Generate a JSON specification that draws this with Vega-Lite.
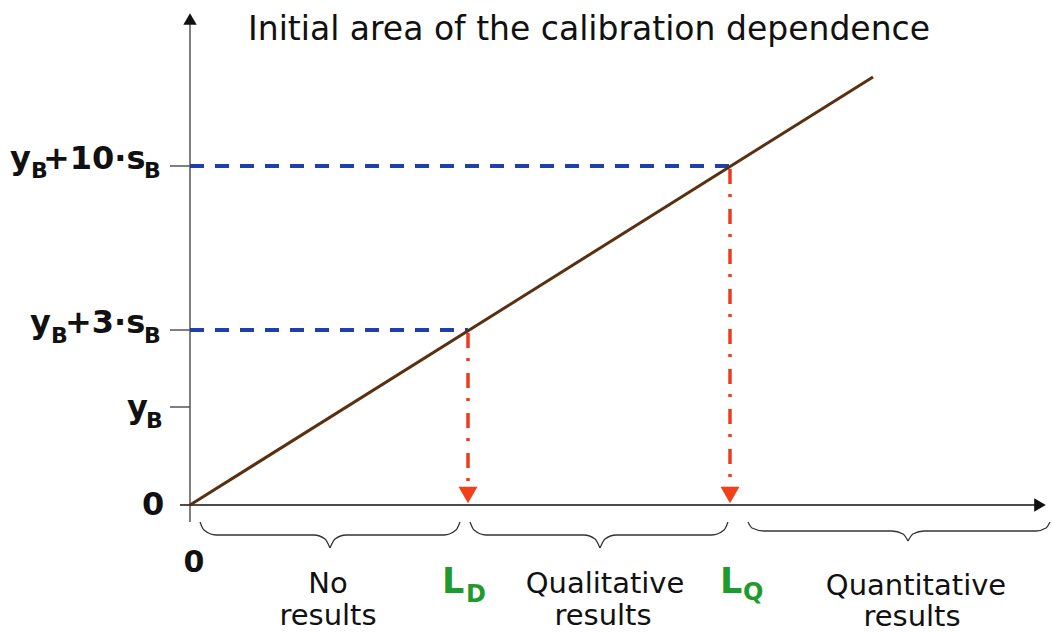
{
  "$schema": "https://vega.github.io/schema/vega-lite/v6.json",
  "width": 1052,
  "height": 633,
  "autosize": {"type": "none"},
  "padding": 0,
  "background": "white",
  "config": {"view": {"stroke": null}},
  "layer": [
    {
      "data": {"values": [{"x": 0, "y": -17, "y2": 487}]},
      "mark": {"type": "rule", "color": "#555555", "strokeWidth": 1.5},
      "encoding": {
        "x": {"field": "x", "type": "quantitative", "scale": {"domain": [-190, 862], "nice": false, "zero": false}, "axis": null},
        "y": {"field": "y", "type": "quantitative", "scale": {"domain": [-128, 505], "nice": false, "zero": false}, "axis": null},
        "y2": {"field": "y2"}
      }
    },
    {
      "data": {"values": [{"x": -10, "x2": 846, "y": 0}]},
      "mark": {"type": "rule", "color": "#111111", "strokeWidth": 1.5},
      "encoding": {
        "x": {"field": "x", "type": "quantitative", "scale": {"domain": [-190, 862], "nice": false, "zero": false}, "axis": null},
        "x2": {"field": "x2"},
        "y": {"field": "y", "type": "quantitative", "scale": {"domain": [-128, 505], "nice": false, "zero": false}, "axis": null}
      }
    },
    {
      "data": {"values": [{"x": 0, "y": 486, "dir": "up"}, {"x": 850, "y": 0, "dir": "right"}]},
      "mark": {"type": "point", "filled": true, "size": 180, "color": "#111111", "opacity": 1},
      "encoding": {
        "x": {"field": "x", "type": "quantitative", "scale": {"domain": [-190, 862], "nice": false, "zero": false}, "axis": null},
        "y": {"field": "y", "type": "quantitative", "scale": {"domain": [-128, 505], "nice": false, "zero": false}, "axis": null},
        "shape": {"field": "dir", "type": "nominal", "scale": {"domain": ["up", "right"], "range": ["triangle-up", "triangle-right"]}, "legend": null}
      }
    },
    {
      "data": {"values": [{"x": -20, "x2": 0, "y": 98}, {"x": -20, "x2": 0, "y": 175}, {"x": -20, "x2": 0, "y": 339}]},
      "mark": {"type": "rule", "color": "#555555", "strokeWidth": 1.5},
      "encoding": {
        "x": {"field": "x", "type": "quantitative", "scale": {"domain": [-190, 862], "nice": false, "zero": false}, "axis": null},
        "x2": {"field": "x2"},
        "y": {"field": "y", "type": "quantitative", "scale": {"domain": [-128, 505], "nice": false, "zero": false}, "axis": null}
      }
    },
    {
      "data": {"values": [{"x": 0, "x2": 278, "y": 175}, {"x": 0, "x2": 540, "y": 339}]},
      "mark": {"type": "rule", "color": "#1f3fae", "strokeWidth": 4, "strokeDash": [14, 11]},
      "encoding": {
        "x": {"field": "x", "type": "quantitative", "scale": {"domain": [-190, 862], "nice": false, "zero": false}, "axis": null},
        "x2": {"field": "x2"},
        "y": {"field": "y", "type": "quantitative", "scale": {"domain": [-128, 505], "nice": false, "zero": false}, "axis": null}
      }
    },
    {
      "data": {"values": [{"x": 278, "y": 172, "y2": 17}, {"x": 540, "y": 336, "y2": 17}]},
      "mark": {"type": "rule", "color": "#ee3b1e", "strokeWidth": 3.5, "strokeDash": [15, 10, 3, 12]},
      "encoding": {
        "x": {"field": "x", "type": "quantitative", "scale": {"domain": [-190, 862], "nice": false, "zero": false}, "axis": null},
        "y": {"field": "y", "type": "quantitative", "scale": {"domain": [-128, 505], "nice": false, "zero": false}, "axis": null},
        "y2": {"field": "y2"}
      }
    },
    {
      "data": {"values": [{"x": 278, "y": 10}, {"x": 540, "y": 10}]},
      "mark": {"type": "point", "shape": "triangle-down", "filled": true, "size": 360, "color": "#f4401a", "opacity": 1},
      "encoding": {
        "x": {"field": "x", "type": "quantitative", "scale": {"domain": [-190, 862], "nice": false, "zero": false}, "axis": null},
        "y": {"field": "y", "type": "quantitative", "scale": {"domain": [-128, 505], "nice": false, "zero": false}, "axis": null}
      }
    },
    {
      "data": {"values": [{"x": 0, "y": 0}, {"x": 683, "y": 428}]},
      "mark": {"type": "line", "color": "#5a3010", "strokeWidth": 3},
      "encoding": {
        "x": {"field": "x", "type": "quantitative", "scale": {"domain": [-190, 862], "nice": false, "zero": false}, "axis": null},
        "y": {"field": "y", "type": "quantitative", "scale": {"domain": [-128, 505], "nice": false, "zero": false}, "axis": null}
      }
    },
    {
      "data": {"values": [
        {"part": "1L", "x": 10, "y": -17}, {"part": "1L", "x": 14, "y": -25}, {"part": "1L", "x": 26, "y": -30}, {"part": "1L", "x": 124, "y": -30}, {"part": "1L", "x": 135, "y": -34}, {"part": "1L", "x": 140, "y": -43},
        {"part": "1R", "x": 140, "y": -43}, {"part": "1R", "x": 145, "y": -34}, {"part": "1R", "x": 156, "y": -30}, {"part": "1R", "x": 254, "y": -30}, {"part": "1R", "x": 266, "y": -25}, {"part": "1R", "x": 270, "y": -17},
        {"part": "2L", "x": 280, "y": -17}, {"part": "2L", "x": 284, "y": -25}, {"part": "2L", "x": 296, "y": -30}, {"part": "2L", "x": 394, "y": -30}, {"part": "2L", "x": 405, "y": -34}, {"part": "2L", "x": 410, "y": -43},
        {"part": "2R", "x": 410, "y": -43}, {"part": "2R", "x": 415, "y": -34}, {"part": "2R", "x": 426, "y": -30}, {"part": "2R", "x": 522, "y": -30}, {"part": "2R", "x": 534, "y": -25}, {"part": "2R", "x": 538, "y": -17},
        {"part": "3L", "x": 558, "y": -17}, {"part": "3L", "x": 562, "y": -23}, {"part": "3L", "x": 574, "y": -26}, {"part": "3L", "x": 702, "y": -26}, {"part": "3L", "x": 713, "y": -29}, {"part": "3L", "x": 718, "y": -36},
        {"part": "3R", "x": 718, "y": -36}, {"part": "3R", "x": 723, "y": -29}, {"part": "3R", "x": 734, "y": -26}, {"part": "3R", "x": 846, "y": -26}, {"part": "3R", "x": 856, "y": -23}, {"part": "3R", "x": 860, "y": -17}
      ]},
      "mark": {"type": "line", "color": "#333333", "strokeWidth": 1.3, "interpolate": "monotone"},
      "encoding": {
        "x": {"field": "x", "type": "quantitative", "scale": {"domain": [-190, 862], "nice": false, "zero": false}, "axis": null},
        "y": {"field": "y", "type": "quantitative", "scale": {"domain": [-128, 505], "nice": false, "zero": false}, "axis": null},
        "detail": {"field": "part", "type": "nominal"}
      }
    },
    {
      "data": {"values": [{"x": 399, "y": 465, "t": "Initial area of the calibration dependence"}]},
      "mark": {"type": "text", "font": "DejaVu Sans", "fontSize": 33, "align": "center", "baseline": "alphabetic", "color": "#111111"},
      "encoding": {
        "x": {"field": "x", "type": "quantitative", "scale": {"domain": [-190, 862], "nice": false, "zero": false}, "axis": null},
        "y": {"field": "y", "type": "quantitative", "scale": {"domain": [-128, 505], "nice": false, "zero": false}, "axis": null},
        "text": {"field": "t"}
      }
    },
    {
      "data": {"values": [
        {"x": -180, "y": 336, "t": "y"}, {"x": -147, "y": 336, "t": "+10·s"},
        {"x": -160, "y": 172, "t": "y"}, {"x": -125, "y": 172, "t": "+3·s"},
        {"x": -63, "y": 87, "t": "y"}, {"x": -48, "y": -10, "t": "0"}
      ]},
      "mark": {"type": "text", "font": "DejaVu Sans", "fontWeight": "bold", "fontSize": 32, "align": "left", "baseline": "alphabetic", "color": "#111111"},
      "encoding": {
        "x": {"field": "x", "type": "quantitative", "scale": {"domain": [-190, 862], "nice": false, "zero": false}, "axis": null},
        "y": {"field": "y", "type": "quantitative", "scale": {"domain": [-128, 505], "nice": false, "zero": false}, "axis": null},
        "text": {"field": "t"}
      }
    },
    {
      "data": {"values": [
        {"x": -159, "y": 327, "t": "B"}, {"x": -46, "y": 327, "t": "B"},
        {"x": -139, "y": 162, "t": "B"}, {"x": -46, "y": 162, "t": "B"},
        {"x": -44, "y": 77, "t": "B"}
      ]},
      "mark": {"type": "text", "font": "DejaVu Sans", "fontWeight": "bold", "fontSize": 22, "align": "left", "baseline": "alphabetic", "color": "#111111"},
      "encoding": {
        "x": {"field": "x", "type": "quantitative", "scale": {"domain": [-190, 862], "nice": false, "zero": false}, "axis": null},
        "y": {"field": "y", "type": "quantitative", "scale": {"domain": [-128, 505], "nice": false, "zero": false}, "axis": null},
        "text": {"field": "t"}
      }
    },
    {
      "data": {"values": [{"x": 4, "y": -67, "t": "0"}]},
      "mark": {"type": "text", "font": "DejaVu Sans", "fontWeight": "bold", "fontSize": 30, "align": "center", "baseline": "alphabetic", "color": "#111111"},
      "encoding": {
        "x": {"field": "x", "type": "quantitative", "scale": {"domain": [-190, 862], "nice": false, "zero": false}, "axis": null},
        "y": {"field": "y", "type": "quantitative", "scale": {"domain": [-128, 505], "nice": false, "zero": false}, "axis": null},
        "text": {"field": "t"}
      }
    },
    {
      "data": {"values": [
        {"x": 138, "y": -88, "t": "No"}, {"x": 138, "y": -120, "t": "results"},
        {"x": 415, "y": -88, "t": "Qualitative"}, {"x": 413, "y": -120, "t": "results"},
        {"x": 726, "y": -90, "t": "Quantitative"}, {"x": 722, "y": -121, "t": "results"}
      ]},
      "mark": {"type": "text", "font": "DejaVu Sans", "fontSize": 29, "align": "center", "baseline": "alphabetic", "color": "#111111"},
      "encoding": {
        "x": {"field": "x", "type": "quantitative", "scale": {"domain": [-190, 862], "nice": false, "zero": false}, "axis": null},
        "y": {"field": "y", "type": "quantitative", "scale": {"domain": [-128, 505], "nice": false, "zero": false}, "axis": null},
        "text": {"field": "t"}
      }
    },
    {
      "data": {"values": [{"x": 252, "y": -88, "t": "L"}, {"x": 530, "y": -88, "t": "L"}]},
      "mark": {"type": "text", "font": "DejaVu Sans", "fontWeight": "bold", "fontSize": 35, "align": "left", "baseline": "alphabetic", "color": "#1f9a2e"},
      "encoding": {
        "x": {"field": "x", "type": "quantitative", "scale": {"domain": [-190, 862], "nice": false, "zero": false}, "axis": null},
        "y": {"field": "y", "type": "quantitative", "scale": {"domain": [-128, 505], "nice": false, "zero": false}, "axis": null},
        "text": {"field": "t"}
      }
    },
    {
      "data": {"values": [{"x": 276, "y": -97, "t": "D"}, {"x": 553, "y": -95, "t": "Q"}]},
      "mark": {"type": "text", "font": "DejaVu Sans", "fontWeight": "bold", "fontSize": 24, "align": "left", "baseline": "alphabetic", "color": "#1f9a2e"},
      "encoding": {
        "x": {"field": "x", "type": "quantitative", "scale": {"domain": [-190, 862], "nice": false, "zero": false}, "axis": null},
        "y": {"field": "y", "type": "quantitative", "scale": {"domain": [-128, 505], "nice": false, "zero": false}, "axis": null},
        "text": {"field": "t"}
      }
    }
  ]
}
